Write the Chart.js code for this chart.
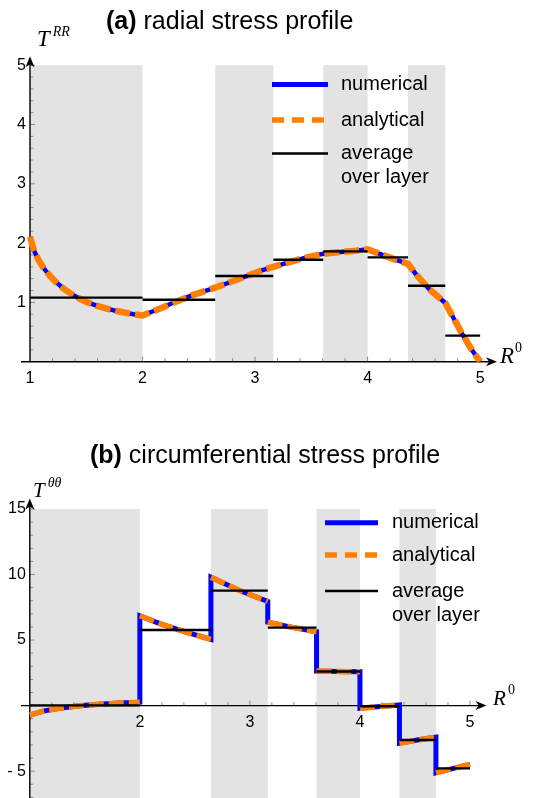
<!DOCTYPE html>
<html>
<head>
<meta charset="utf-8">
<title>Perfiles de esfuerzo</title>
<script src="https://cdn.jsdelivr.net/npm/chart.js@4.4.0/dist/chart.umd.min.js"></script>
<style>
  body { margin: 0; background: #fff; }
  #contenedor { position: relative; width: 538px; height: 798px; overflow: hidden; }
  canvas { position: absolute; left: 0; }
  #graficoA { top: 0; }
  #graficoB { top: 400px; }
</style>
</head>
<body>
<div id="contenedor">
  <canvas id="graficoA" width="538" height="400"></canvas>
  <canvas id="graficoB" width="538" height="398"></canvas>
</div>
<script>
// limites de las capas en R^0 (las grises son las capas alternas)
const limitesCapa = [1, 2, 2.6458, 3.1623, 3.6056, 4, 4.3589, 4.6904, 5];
const inicioGris = [1, 2.6458, 3.6056, 4.3589];
const finGris = [2, 3.1623, 4, 4.6904];

// (a) esfuerzo radial
const rRadial = [1, 1.036, 1.08, 1.123, 1.18, 1.238, 1.3, 1.369, 1.44, 1.513, 1.59, 1.673, 1.76, 1.847, 1.92, 2,
  2.1, 2.2, 2.266, 2.35, 2.426, 2.52, 2.6458, 2.75, 2.86, 2.95, 3.06, 3.1623, 3.29, 3.45, 3.6056,
  3.73, 3.87, 4, 4.12, 4.24, 4.3589, 4.44, 4.55, 4.6904, 4.76, 4.84, 4.92, 5];
const tRadial = [2.11, 1.87, 1.70, 1.575, 1.44, 1.33, 1.23, 1.14, 1.065, 1.0, 0.945, 0.898, 0.86, 0.826, 0.80, 0.78,
  0.855, 0.93, 0.99, 1.05, 1.11, 1.17, 1.25, 1.32, 1.40, 1.46, 1.54, 1.60, 1.67, 1.755, 1.82,
  1.845, 1.865, 1.895, 1.81, 1.725, 1.65, 1.45, 1.22, 0.99, 0.75, 0.47, 0.22, 0];
const promRadial = [1.08, 1.045, 1.446, 1.72, 1.86, 1.76, 1.28, 0.44];
const ticksXa = [1, 2, 3, 4, 5];
const ticksYa = [1, 2, 3, 4, 5];

// (b) esfuerzo circunferencial, un arreglo por capa
const rCirc = [
  [1, 1.12, 1.27, 1.45, 1.63, 1.82, 2],
  [2, 2.2, 2.42, 2.6458],
  [2.6458, 2.9, 3.1623],
  [3.1623, 3.387, 3.6056],
  [3.6056, 3.8, 4],
  [4, 4.18, 4.3589],
  [4.3589, 4.52, 4.6904],
  [4.6904, 4.85, 5]
];
const tCirc = [
  [-0.72, -0.42, -0.2, -0.02, 0.1, 0.19, 0.26],
  [6.85, 6.2, 5.6, 5.05],
  [9.8, 8.8, 7.95],
  [6.36, 5.97, 5.64],
  [2.64, 2.61, 2.58],
  [-0.2, -0.07, 0.05],
  [-2.87, -2.63, -2.41],
  [-5.13, -4.79, -4.49]
];
const promCirc = [0.02, 5.77, 8.77, 5.95, 2.6, -0.05, -2.62, -4.79];
const ticksXb = [2, 3, 4, 5];
const ticksYb = [-5, 5, 10, 15];
const etiquetasYb = ["- 5", "5", "10", "15"];

const AZUL = "#0000ff";
const NARANJA = "#ff8000";
const GRIS = "#e3e3e3";
const SANS = '"Liberation Sans", Arial, sans-serif';
const SERIF = '"Liberation Serif", "Times New Roman", serif';

function puntos(xs, ys) {
  return xs.map(function (x, i) { return { x: x, y: ys[i] }; });
}

// una linea horizontal por capa, separadas con huecos
function segmentosPromedio(prom) {
  let pts = [];
  for (let i = 0; i < prom.length; i++) {
    pts.push({ x: limitesCapa[i], y: prom[i] });
    pts.push({ x: limitesCapa[i + 1], y: prom[i] });
    pts.push({ x: limitesCapa[i + 1], y: null });
  }
  return pts;
}

function flecha(ctx, tx, ty, dx, dy) {
  const L = 11, W = 4.5, px = -dy, py = dx;
  ctx.beginPath();
  ctx.moveTo(tx, ty);
  ctx.lineTo(tx - dx * L + px * W, ty - dy * L + py * W);
  ctx.lineTo(tx - dx * L * 0.72, ty - dy * L * 0.72);
  ctx.lineTo(tx - dx * L - px * W, ty - dy * L - py * W);
  ctx.closePath();
  ctx.fillStyle = "#000";
  ctx.fill();
}

// capas grises, ejes con flechas, marcas y numeros
const ejes = {
  id: "ejes",
  beforeDatasetsDraw(chart, args, o) {
    const ctx = chart.ctx;
    const sx = chart.scales.x, sy = chart.scales.y, area = chart.chartArea;
    ctx.save();
    ctx.fillStyle = GRIS;
    for (let i = 0; i < inicioGris.length; i++) {
      const xa = sx.getPixelForValue(inicioGris[i]);
      const xb = sx.getPixelForValue(finGris[i]);
      const ya = sy.getPixelForValue(o.grisHasta);
      const yb = sy.getPixelForValue(o.grisDesde);
      ctx.fillRect(xa, ya, xb - xa, yb - ya);
    }

    const y0 = sy.getPixelForValue(0);
    const x0 = sx.getPixelForValue(1);

    ctx.strokeStyle = "#8a8a8a";
    ctx.lineWidth = 1;
    ctx.beginPath();
    for (let k = 6; k <= 25; k++) {
      const px = sx.getPixelForValue(k / 5);
      const largo = k % 5 === 0 ? 5 : 3.5;
      ctx.moveTo(px, y0);
      ctx.lineTo(px, y0 - largo);
    }
    const kMin = Math.round(o.yMin / o.yPaso), kMax = Math.round(o.yMax / o.yPaso);
    for (let k = kMin; k <= kMax; k++) {
      if (k === 0) continue;
      const v = k * o.yPaso;
      const py = sy.getPixelForValue(v);
      const mayor = Math.abs(v / o.yMayor - Math.round(v / o.yMayor)) < 1e-6;
      ctx.moveTo(x0, py);
      ctx.lineTo(x0 + (mayor ? 5 : 3.5), py);
    }
    ctx.stroke();

    ctx.strokeStyle = "#000";
    ctx.lineWidth = 1.4;
    ctx.beginPath();
    ctx.moveTo(area.left, y0);
    ctx.lineTo(area.right - 6, y0);
    ctx.moveTo(x0, sy.getPixelForValue(o.yMin > 0 ? 0 : sy.min));
    ctx.lineTo(x0, area.top + 6);
    ctx.stroke();
    flecha(ctx, area.right, y0, 1, 0);
    flecha(ctx, x0, area.top, 0, -1);

    ctx.fillStyle = "#000";
    ctx.font = "16px " + SANS;
    ctx.textAlign = "center";
    ctx.textBaseline = "middle";
    o.ticksX.forEach(function (v) {
      ctx.fillText(String(v), sx.getPixelForValue(v), y0 + 17);
    });
    ctx.textAlign = "right";
    o.ticksY.forEach(function (v, i) {
      ctx.fillText(o.etiquetasY[i], x0 - 4, sy.getPixelForValue(v));
    });
    ctx.restore();
  }
};

// titulo, nombres de ejes y leyenda
const textos = {
  id: "textos",
  afterDraw(chart, args, o) {
    const ctx = chart.ctx;
    ctx.save();
    ctx.fillStyle = "#000";
    ctx.textAlign = "left";
    ctx.textBaseline = "alphabetic";

    ctx.font = "bold 25px " + SANS;
    ctx.fillText(o.letra, o.titulo[0], o.titulo[1]);
    const ancho = ctx.measureText(o.letra + " ").width;
    ctx.font = "25px " + SANS;
    ctx.fillText(o.texto, o.titulo[0] + ancho, o.titulo[1]);

    ctx.font = "italic " + o.tamEje + "px " + SERIF;
    ctx.fillText("T", o.nombreY[0], o.nombreY[1]);
    const anchoT = ctx.measureText("T").width;
    ctx.font = "italic 14px " + SERIF;
    ctx.fillText(o.indiceY, o.nombreY[0] + anchoT + 3, o.nombreY[1] - 10);

    ctx.font = "italic " + o.tamEje + "px " + SERIF;
    ctx.fillText("R", o.nombreX[0], o.nombreX[1]);
    ctx.font = "14px " + SERIF;
    ctx.fillText("0", o.nombreX[0] + 15, o.nombreX[1] - 11);

    // leyenda
    const ley = o.leyenda;
    const x1 = ley.x, x2 = ley.x + ley.largo;
    ctx.lineCap = "butt";
    ctx.strokeStyle = AZUL;
    ctx.lineWidth = 5;
    ctx.beginPath(); ctx.moveTo(x1, ley.y[0]); ctx.lineTo(x2, ley.y[0]); ctx.stroke();
    ctx.strokeStyle = NARANJA;
    ctx.lineWidth = 5.5;
    ctx.setLineDash([12, 8]);
    ctx.beginPath(); ctx.moveTo(x1, ley.y[1]); ctx.lineTo(x2, ley.y[1]); ctx.stroke();
    ctx.setLineDash([]);
    ctx.strokeStyle = "#000";
    ctx.lineWidth = 2.3;
    ctx.beginPath(); ctx.moveTo(x1, ley.y[2]); ctx.lineTo(x2, ley.y[2]); ctx.stroke();

    ctx.font = "20px " + SANS;
    ctx.textBaseline = "middle";
    ctx.fillText("numerical", ley.xTexto, ley.y[0]);
    ctx.fillText("analytical", ley.xTexto, ley.y[1]);
    ctx.fillText("average", ley.xTexto, ley.y[2]);
    ctx.fillText("over layer", ley.xTexto, ley.y[2] + 24);
    ctx.restore();
  }
};

function conjuntos(numerico, analitico, promedio, anchoAzul, anchoNaranja) {
  return [
    { label: "average over layer", data: promedio, borderColor: "#000", borderWidth: 2.4, order: 0 },
    { label: "analytical", data: analitico, borderColor: NARANJA, borderWidth: anchoNaranja,
      borderDash: [15, 5], order: 1 },
    { label: "numerical", data: numerico, borderColor: AZUL, borderWidth: anchoAzul, order: 2 }
  ];
}

function opciones(xMin, xMax, yMin, yMax, padding, ejesOpc, textosOpc) {
  return {
    responsive: false,
    animation: false,
    events: [],
    layout: { padding: padding },
    elements: { point: { radius: 0 }, line: { tension: 0, borderCapStyle: "butt" } },
    spanGaps: false,
    scales: {
      x: { type: "linear", min: xMin, max: xMax, display: false },
      y: { type: "linear", min: yMin, max: yMax, display: false }
    },
    plugins: {
      legend: { display: false },
      tooltip: { enabled: false },
      ejes: ejesOpc,
      textos: textosOpc
    }
  };
}

// grafico (a)
const datosRadial = puntos(rRadial, tRadial);
new Chart(document.getElementById("graficoA"), {
  type: "line",
  data: { datasets: conjuntos(datosRadial, datosRadial, segmentosPromedio(promRadial), 4.5, 6.5) },
  options: opciones(0.92, 5.15, 0, 5.15,
    { left: 21, right: 41, top: 56.3, bottom: 38.3 },
    { grisDesde: 0, grisHasta: 5, yMin: 0, yMax: 5, yPaso: 0.2, yMayor: 1,
      ticksX: ticksXa, ticksY: ticksYa, etiquetasY: ticksYa.map(String) },
    { letra: "(a)", texto: "radial stress profile", titulo: [106, 28.5],
      tamEje: 23, nombreY: [37, 45.5], indiceY: "RR", nombreX: [500, 363],
      leyenda: { x: 272, largo: 56, xTexto: 341, y: [84.5, 120, 153.5] } }),
  plugins: [ejes, textos]
});

// grafico (b): el numerico es continuo con saltos verticales, el analitico va por capa
let numCirc = [];
let anaCirc = [];
for (let i = 0; i < rCirc.length; i++) {
  const capa = puntos(rCirc[i], tCirc[i]);
  numCirc = numCirc.concat(capa);
  anaCirc = anaCirc.concat(capa);
  anaCirc.push({ x: rCirc[i][rCirc[i].length - 1], y: null });
}
new Chart(document.getElementById("graficoB"), {
  type: "line",
  data: { datasets: conjuntos(numCirc, anaCirc, segmentosPromedio(promCirc), 5, 5.5) },
  options: opciones(0.92, 5.15, -7.05, 15.8,
    { left: 21, right: 51.5, top: 98.5, bottom: 0 },
    { grisDesde: -7.05, grisHasta: 15, yMin: -7, yMax: 15, yPaso: 1, yMayor: 5,
      ticksX: ticksXb, ticksY: ticksYb, etiquetasY: etiquetasYb },
    { letra: "(b)", texto: "circumferential stress profile", titulo: [90, 63],
      tamEje: 21, nombreY: [33, 97], indiceY: "\u03b8\u03b8", nombreX: [493, 305],
      leyenda: { x: 325, largo: 53, xTexto: 392, y: [122.7, 155, 191] } }),
  plugins: [ejes, textos]
});
</script>
</body>
</html>
